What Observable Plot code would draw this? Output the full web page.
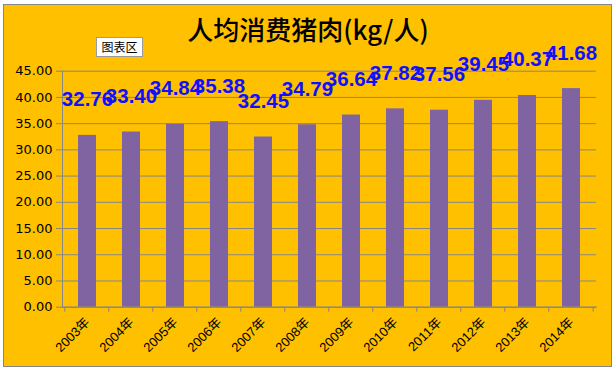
<!DOCTYPE html>
<html><head><meta charset="utf-8">
<script src="https://cdn.jsdelivr.net/npm/d3@7"></script>
<script src="https://cdn.jsdelivr.net/npm/@observablehq/plot@0.6"></script>
<style>
body{margin:0;background:#fff;}
#wrap{position:relative;width:616px;height:371px;overflow:hidden;}
#frame{position:absolute;left:3px;top:4px;width:609px;height:363px;background:#FFC000;border:1px solid #868686;box-sizing:border-box;}
#title{position:absolute;left:0;top:14px;width:616px;text-align:center;font-family:"Noto Sans CJK SC",sans-serif;font-size:26px;line-height:30px;font-weight:500;color:#000;}
#area{position:absolute;left:96px;top:37px;width:47px;height:20px;background:#fff;border:1px solid #9a9a9a;box-sizing:border-box;font-family:"Noto Sans CJK SC",sans-serif;font-size:12px;line-height:18px;text-align:center;color:#000;}
#chart{position:absolute;left:0;top:0;}
</style></head>
<body>
<div id="wrap">
  <div id="frame"></div>
  <div id="chart"></div>
  <div id="title">人均消费猪肉(kg/人)</div>
  <div id="area">图表区</div>
</div>
<script>
const years = ["2003年","2004年","2005年","2006年","2007年","2008年","2009年","2010年","2011年","2012年","2013年","2014年"];
const values = [32.76,33.40,34.84,35.38,32.45,34.79,36.64,37.82,37.56,39.45,40.37,41.68];
const yTicks = [0,5,10,15,20,25,30,35,40,45];

const data = years.map((year, i) => ({year, value: values[i]}));
const gray = "#868686";

const plot = Plot.plot({
  width: 616,
  height: 371,
  marginLeft: 62,
  marginRight: 20,
  marginTop: 70.7,
  marginBottom: 64.3,
  style: {background: "transparent", color: "#000", fontFamily: "'Liberation Sans', 'Noto Sans CJK SC', sans-serif"},
  x: {domain: years, paddingInner: 0.6, paddingOuter: 0.3},
  y: {domain: [0, 45]},
  marks: [
    Plot.gridY(yTicks, {stroke: gray, strokeOpacity: 1}),
    Plot.barY(data, {x: "year", y: "value", fill: "#8064A2"}),
    Plot.frame({anchor: "left", stroke: gray}),
    Plot.frame({anchor: "bottom", stroke: gray}),
    Plot.axisY(yTicks, {tickFormat: d => d.toFixed(2), tickSize: 6, tickPadding: 4, stroke: gray, fontSize: 13, fontFamily: "'DejaVu Sans', sans-serif", label: null}),
    Plot.axisX({tickSize: 0, tickRotate: -45, tickPadding: 13, fontSize: 13, label: null}),
    Plot.text(data, {x: "year", y: "value", text: d => d.value.toFixed(2), dy: -29, lineAnchor: "bottom", fill: "#1010FF", fontSize: 20.5, fontWeight: "bold", fontFamily: "'Liberation Sans', sans-serif"})
  ]
});

document.getElementById("chart").appendChild(plot);

// boundary tick marks on the category axis, placed with the plot's own scales
const xs = plot.scale("x");
const ys = plot.scale("y");
const step = xs.step;
const y0 = ys.apply(0);
const bounds = years.map(y => xs.apply(y) - step * 0.3);
bounds.push(xs.apply(years[years.length - 1]) + xs.bandwidth + step * 0.3);
d3.select(plot).append("g")
  .selectAll("line").data(bounds).join("line")
  .attr("x1", d => d).attr("x2", d => d)
  .attr("y1", y0).attr("y2", y0 + 5)
  .attr("stroke", gray);
</script>
</body></html>
